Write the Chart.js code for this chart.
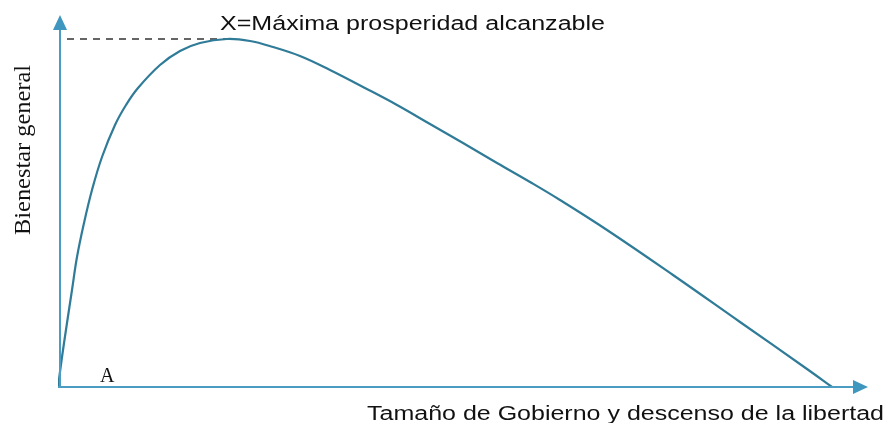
<!DOCTYPE html>
<html>
<head>
<meta charset="utf-8">
<script src="https://cdn.jsdelivr.net/npm/chart.js@4"></script>
<style>
  html, body { margin: 0; padding: 0; background: #fff; }
  #wrap { width: 889px; height: 423px; }
</style>
</head>
<body>
<div id="wrap"><canvas id="curva"></canvas></div>
<script>
// puntos de la curva (tamaño del gobierno, bienestar)
const tamano    = [0, 4, 9, 14, 19, 26, 34, 44, 57, 68, 80, 102, 122, 142, 169, 192, 215, 242, 272, 305, 339, 372, 405, 439, 472, 502, 549, 615, 682, 749, 774];
const bienestar = [0, 30, 64, 97, 130, 164, 197, 230, 262, 282, 299, 322, 336, 344, 348, 346, 340, 331, 317, 300, 282, 263, 244, 224, 205, 187, 157, 112, 65, 18, 0];

// línea discontinua hasta el máximo
const maxX = [9, 169];
const maxY = [348, 348];

const tituloMax = 'X=Máxima prosperidad alcanzable';
const tituloX = 'Tamaño de Gobierno y descenso de la libertad';
const tituloY = 'Bienestar general';
const puntoA = 'A';

const puntos = tamano.map((x, i) => ({ x: x, y: bienestar[i] }));
const lineaMax = maxX.map((x, i) => ({ x: x, y: maxY[i] }));

// texto estirado a lo ancho, como en la imagen original
function textoAncho(c, txt, x, y, ancho) {
  const w = c.measureText(txt).width;
  c.save();
  c.translate(x, y);
  c.scale(ancho / w, 1);
  c.fillText(txt, 0, 0);
  c.restore();
}

// dibuja ejes con flechas y los textos
const ejesPlugin = {
  id: 'ejes',
  afterDraw(chart) {
    const c = chart.ctx;
    const xs = chart.scales.x, ys = chart.scales.y;
    const x0 = xs.getPixelForValue(0), y0 = ys.getPixelForValue(0);
    const xEnd = xs.right, yEnd = ys.top;
    c.save();
    c.strokeStyle = '#4a9cc2';
    c.fillStyle = '#3f97c0';
    c.lineWidth = 2;
    c.beginPath();
    c.moveTo(x0 + 2, y0);
    c.lineTo(x0 + 2, yEnd + 12);
    c.moveTo(x0, y0);
    c.lineTo(xEnd - 12, y0);
    c.stroke();
    // flecha vertical
    c.beginPath();
    c.moveTo(x0 + 2, yEnd);
    c.lineTo(x0 - 5, yEnd + 15);
    c.lineTo(x0 + 9, yEnd + 15);
    c.closePath();
    c.fill();
    // flecha horizontal
    c.beginPath();
    c.moveTo(xEnd, y0);
    c.lineTo(xEnd - 15, y0 - 7);
    c.lineTo(xEnd - 15, y0 + 7);
    c.closePath();
    c.fill();

    c.fillStyle = '#111';
    c.textBaseline = 'alphabetic';
    c.textAlign = 'left';
    c.font = '20px "Liberation Sans", Arial, sans-serif';
    textoAncho(c, tituloMax, 220, 30, 385);
    textoAncho(c, tituloX, 367, 420, 517);
    c.font = '20px "Liberation Serif", "Times New Roman", serif';
    c.fillText(puntoA, 100, 382);
    c.textBaseline = 'middle';
    c.translate(24, 235);
    c.rotate(-Math.PI / 2);
    c.font = '23px "Liberation Serif", "Times New Roman", serif';
    textoAncho(c, tituloY, 0, 0, 170);
    c.restore();
  }
};

const ctx = document.getElementById('curva').getContext('2d');
new Chart(ctx, {
  type: 'scatter',
  data: {
    datasets: [{
      data: puntos,
      showLine: true,
      borderColor: '#2f7b98',
      borderWidth: 2.2,
      pointRadius: 0,
      tension: 0.4,
      fill: false
    }, {
      data: lineaMax,
      showLine: true,
      borderColor: '#333',
      borderWidth: 1.5,
      borderDash: [7, 6],
      pointRadius: 0
    }]
  },
  options: {
    responsive: true,
    maintainAspectRatio: false,
    animation: false,
    layout: { padding: { left: 58, right: 21, top: 15, bottom: 36 } },
    plugins: { legend: { display: false }, tooltip: { enabled: false } },
    scales: {
      x: { type: 'linear', min: 0, max: 810, display: false },
      y: { min: 0, max: 372, display: false }
    }
  },
  plugins: [ejesPlugin]
});
</script>
</body>
</html>
